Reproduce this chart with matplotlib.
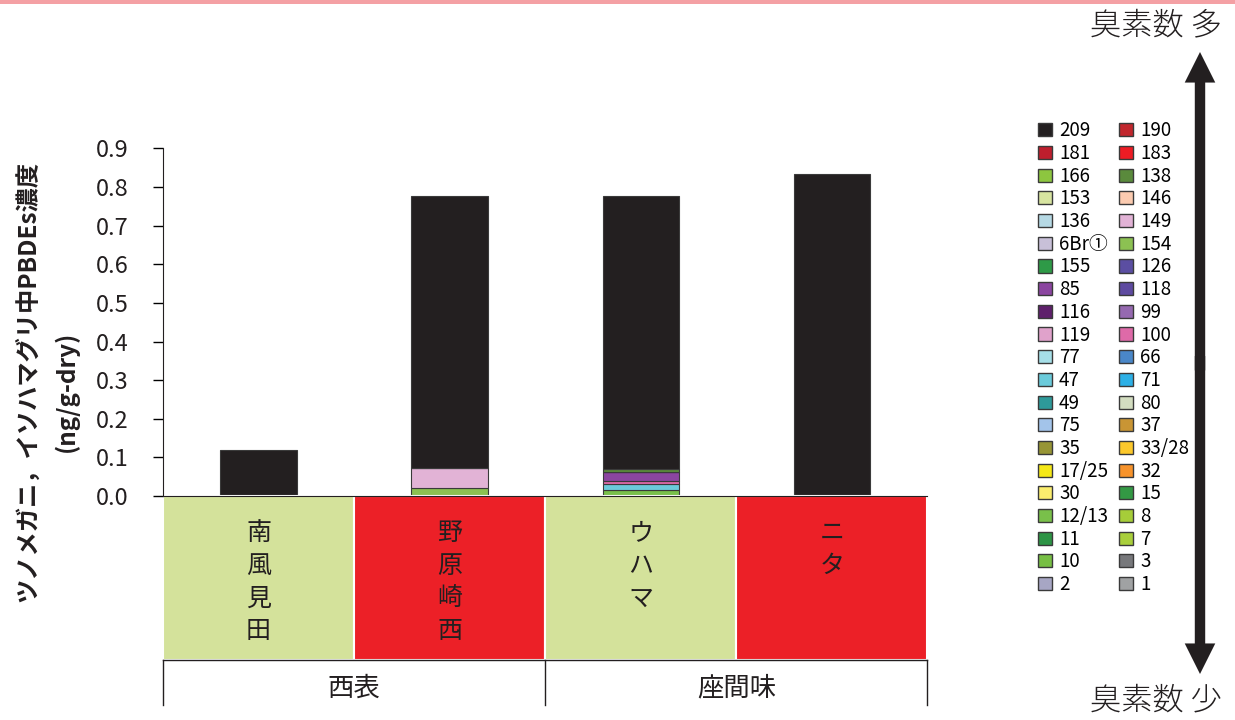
import matplotlib.pyplot as plt
import matplotlib.transforms as mtransforms
from matplotlib.patches import Rectangle, Patch, FancyArrowPatch
from matplotlib.lines import Line2D

plt.rcParams['font.family'] = ['Noto Sans CJK JP', 'DejaVu Sans']

# sites and regions
sites = ['南風見田', '野原崎西', 'ウハマ', 'ニタ']
site_colors = ['#d4e29b', '#ec2027', '#d4e29b', '#ec2027']
groups = ['西表', '座間味']

# congeners in legend order (row by row) and their colours
congeners = ['209', '190', '181', '183', '166', '138', '153', '146', '136', '149',
             '6Br①', '154', '155', '126', '85', '118', '116', '99', '119', '100',
             '77', '66', '47', '71', '49', '80', '75', '37', '35', '33/28',
             '17/25', '32', '30', '15', '12/13', '8', '11', '7', '10', '3',
             '2', '1']
colors = ['#231f20', '#c1272d', '#be1e2d', '#ed1c24', '#8dc63f', '#5a8a3c',
          '#d7e4a0', '#fbcbb0', '#b6d9e4', '#e2b3d6', '#c8c0d8', '#8cc152',
          '#2e9a47', '#5b4ea2', '#8b45a0', '#5e4aa0', '#5e1f6b', '#9569b0',
          '#e0a2cb', '#de6aa8', '#a6dfe8', '#4a87c8', '#6bcbdb', '#2db0e6',
          '#2e9a9a', '#d3ddc0', '#a3c4ea', '#c99534', '#979535', '#fcc82b',
          '#f5e817', '#f7932b', '#fbee6e', '#339944', '#79c04a', '#a6cd39',
          '#2d9445', '#a9cf3b', '#77bf44', '#77787b', '#a7a6c4', '#a0a2a3']

# concentrations (ng/g-dry), only non-zero congeners
bde209 = [0.119, 0.704, 0.708, 0.829]
bde138 = [0.0, 0.0, 0.007, 0.0]
bde149 = [0.0, 0.052, 0.0, 0.0]
bde154 = [0.0, 0.020, 0.0, 0.0]
bde85 = [0.0, 0.0, 0.022, 0.0]
bde100 = [0.0, 0.0, 0.008, 0.0]
bde47 = [0.0, 0.0, 0.015, 0.004]
bde12_13 = [0.0, 0.0, 0.017, 0.0]

values = {'209': bde209, '138': bde138, '149': bde149, '154': bde154,
          '85': bde85, '100': bde100, '47': bde47, '12/13': bde12_13}

fig = plt.figure(figsize=(12.35, 7.2), dpi=100)
ax = fig.add_axes([0.132, 0.311, 0.619, 0.483])

x = list(range(len(sites)))
bottom = [0.0] * len(sites)
# stack from low bromine (bottom) to high bromine (top)
for name, col in zip(congeners[::-1], colors[::-1]):
    if name not in values:
        continue
    v = values[name]
    ax.bar(x, v, width=0.4, bottom=bottom, color=col, edgecolor='#3a3a3a', linewidth=0.8)
    bottom = [b + vi for b, vi in zip(bottom, v)]

ax.set_xlim(-0.5, 3.5)
ax.set_ylim(0, 0.9)
ax.set_yticks([i / 10 for i in range(10)])
ax.set_yticklabels([f'{i / 10:.1f}' for i in range(10)], fontsize=17, color='#231f20')
ax.tick_params(axis='y', direction='out', length=7, width=1, pad=18)
ax.set_xticks([])
for s in ['top', 'right']:
    ax.spines[s].set_visible(False)
ax.spines['left'].set_color('#231f20')
ax.spines['bottom'].set_color('#231f20')

# category boxes below the axis
trans = mtransforms.blended_transform_factory(ax.transData, ax.transAxes)
box_h = 164 / 348
for i, (name, col) in enumerate(zip(sites, site_colors)):
    ax.add_patch(Rectangle((i - 0.5, -box_h), 1.0, box_h, transform=trans,
                           facecolor=col, edgecolor='white', linewidth=1.5, clip_on=False))
    ax.text(i, -24 / 348, '\n'.join(name), transform=trans, ha='center', va='top',
            fontsize=18, linespacing=1.34, color='#231f20')

# group row
line_kw = dict(transform=trans, color='#231f20', linewidth=1, clip_on=False)
ax.add_line(Line2D([-0.5, 3.5], [-box_h, -box_h], **line_kw))
for xv in [-0.5, 1.5, 3.5]:
    ax.add_line(Line2D([xv, xv], [-box_h, -209 / 348], **line_kw))
for j, g in enumerate(groups):
    ax.text(0.5 + 2 * j, -192 / 348, g, transform=trans, ha='center', va='center',
            fontsize=19, color='#231f20')

# y label (two lines)
fig.text(28 / 1235, 1 - 382 / 720, 'ツノメガニ，イソハマグリ中PBDEs濃度', rotation=90,
         ha='center', va='center', fontsize=17.5, fontweight='bold', color='#231f20')
fig.text(66 / 1235, 1 - 391 / 720, '(ng/g-dry)', rotation=90,
         ha='center', va='center', fontsize=17.5, fontweight='bold', color='#231f20')

# legend
handles = [Patch(facecolor=c, edgecolor='#3a3a3a', linewidth=1) for c in colors]
order = list(range(0, len(congeners), 2)) + list(range(1, len(congeners), 2))
fig.legend([handles[i] for i in order], [congeners[i] for i in order],
           ncol=2, loc='upper left', bbox_to_anchor=(1029 / 1235, 1 - 111 / 720),
           frameon=False, fontsize=13.5, labelspacing=0.09, handlelength=0.7,
           handleheight=0.7, handletextpad=0.4, columnspacing=0.6, borderpad=0)

# bromine-count arrow
xa = 1200 / 1235
ymid = 0.4955
for ystart, yend in [(ymid - 0.01, 1 - 52 / 720), (ymid + 0.01, 1 - 674 / 720)]:
    fig.add_artist(FancyArrowPatch((xa, ystart), (xa, yend), transform=fig.transFigure,
                                   arrowstyle='simple,head_width=2.2,head_length=2.2,tail_width=0.75',
                                   mutation_scale=10, color='#231f20', lw=0,
                                   shrinkA=0, shrinkB=0))
fig.text(1222 / 1235, 1 - 25 / 720, '臭素数 多', ha='right', va='center',
         fontsize=22.5, fontweight='light', color='#231f20')
fig.text(1222 / 1235, 1 - 700 / 720, '臭素数 少', ha='right', va='center',
         fontsize=22.5, fontweight='light', color='#231f20')

# pink band at the top
fig.add_artist(Rectangle((0, 1 - 4 / 720), 1, 4 / 720, transform=fig.transFigure,
                         facecolor='#f4a0a4', edgecolor='none'))

fig.savefig('out.png', dpi=100)
